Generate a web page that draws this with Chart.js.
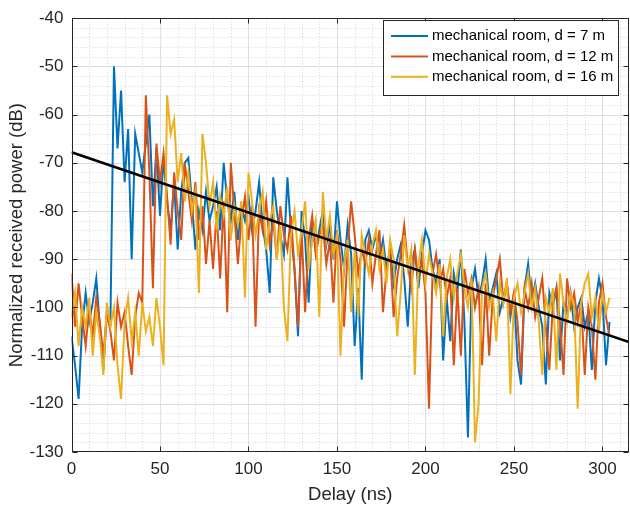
<!DOCTYPE html>
<html>
<head>
<meta charset="utf-8">
<script src="https://cdn.jsdelivr.net/npm/chart.js@4.4.0/dist/chart.umd.min.js"></script>
<style>
  html, body { margin: 0; padding: 0; background: #fff; }
</style>
</head>
<body>
<canvas id="pdp" width="630" height="510"></canvas>
<script>
// samples every 2 ns, starting at 0 ns
const delayStep = 2;

const seriesLabels = [
  'mechanical room, d = 7 m',
  'mechanical room, d = 12 m',
  'mechanical room, d = 16 m'
];

const power7m = [
  -106, -112, -119, -104, -97, -103, -99, -94, -104, -113,
  -101, -103, -50, -67, -55, -74, -63, -90, -64, -68,
  -72, -66, -60, -79, -67, -81, -69, -78, -84, -74,
  -88, -76, -70, -69, -78, -88, -80, -84, -76, -82,
  -79, -75, -84, -70, -78, -82, -76, -86, -79, -82,
  -77, -84, -80, -74, -83, -88, -97, -73, -80, -85,
  -89, -73, -84, -92, -106, -80, -86, -99, -82, -88,
  -84, -80, -87, -83, -90, -78, -86, -92, -83, -89,
  -108, -96, -115, -86, -84, -88, -85, -90, -86, -92,
  -88, -95, -90, -87, -94, -104, -91, -88, -96, -89,
  -84, -86, -92, -95, -90, -111, -98, -107, -93, -97,
  -88, -103, -127, -96, -92, -98, -95, -90, -99, -96,
  -93, -101, -98, -95, -102, -97, -111, -116, -96, -91,
  -99, -95, -100, -104, -116, -97, -100, -96, -111, -99,
  -102, -97, -104, -100, -98, -104, -101, -113, -99, -94,
  -98, -112, -103
];

const power12m = [
  -93, -104, -95, -102, -108, -100, -106, -98, -103, -110,
  -101, -105, -111, -99, -104, -101, -108, -114, -102, -97,
  -99, -56, -72, -96, -66, -74, -68, -77, -87, -72,
  -80, -86, -70, -76, -82, -74, -86, -79, -91, -82,
  -92, -80, -94, -78, -101, -70, -80, -91, -82, -77,
  -86, -79, -104, -80, -84, -78, -87, -82, -90, -79,
  -85, -88, -81, -92, -104, -84, -101, -86, -81, -89,
  -85, -83, -91, -86, -99, -84, -90, -104, -88, -78,
  -85, -93, -88, -91, -86, -95, -89, -84, -101, -92,
  -88, -102, -94, -89, -83, -91, -96, -88, -94, -90,
  -97, -121, -93, -89, -95, -92, -98, -94, -112, -96,
  -110, -92, -97, -94, -100, -96, -112, -95, -110, -98,
  -94, -90, -99, -95, -101, -97, -103, -114, -96, -100,
  -95, -102, -98, -94, -104, -113, -99, -96, -103, -114,
  -94, -100, -97, -103, -99, -114, -100, -104, -115, -99,
  -95, -102, -106
];

const power16m = [
  -102, -97, -108, -100, -104, -98, -110, -101, -106, -114,
  -99, -104, -100, -112, -119, -103, -98, -107, -101, -110,
  -99, -105, -102, -108, -98, -104, -112, -56, -64, -61,
  -74, -68, -78, -72, -80, -76, -97, -64, -70, -79,
  -74, -84, -77, -81, -75, -86, -79, -83, -78, -98,
  -72, -78, -85, -80, -76, -88, -82, -79, -90, -83,
  -100, -107, -85, -80, -89, -84, -78, -92, -86, -82,
  -102, -76, -86, -81, -89, -85, -110, -91, -86, -101,
  -88, -102, -85, -89, -93, -87, -84, -92, -88, -95,
  -86, -90, -106, -97, -85, -92, -88, -114, -91, -86,
  -95, -89, -93, -97, -91, -106, -94, -90, -98, -93,
  -89, -96, -100, -94, -128, -120, -96, -93, -100, -97,
  -107, -95, -99, -94, -118, -98, -95, -101, -97, -93,
  -100, -96, -103, -114, -98, -101, -96, -113, -93, -99,
  -103, -97, -100, -121, -99, -95, -93, -102, -98, -105,
  -97, -101, -98
];

// linear fit drawn in black
const fitDelay = [0, 315];
const fitPower = [-67.8, -107.2];

const seriesColors = ['#0072BD', '#D95319', '#EDB120'];
const font = 'Arial, "Liberation Sans", Helvetica, sans-serif';

const toPoints = vals => vals.map((v, i) => ({ x: i * delayStep, y: v }));

const matlabAxes = {
  id: 'matlabAxes',
  beforeDatasetsDraw(chart) {
    const { ctx, chartArea: a, scales: { x, y } } = chart;
    const vline = px => { px = Math.round(px) + 0.5; ctx.beginPath(); ctx.moveTo(px, a.top); ctx.lineTo(px, a.bottom); ctx.stroke(); };
    const hline = py => { py = Math.round(py) + 0.5; ctx.beginPath(); ctx.moveTo(a.left, py); ctx.lineTo(a.right, py); ctx.stroke(); };
    ctx.save();
    ctx.lineWidth = 1;
    ctx.strokeStyle = '#d4d4d4';
    ctx.setLineDash([1, 2]);
    for (let v = 10; v < 315; v += 10) if (v % 50) vline(x.getPixelForValue(v));
    for (let v = -128; v < -40; v += 2) if (v % 10) hline(y.getPixelForValue(v));
    ctx.setLineDash([]);
    ctx.strokeStyle = '#dedede';
    for (let v = 50; v <= 300; v += 50) vline(x.getPixelForValue(v));
    for (let v = -120; v <= -50; v += 10) hline(y.getPixelForValue(v));
    ctx.restore();
  },
  afterDatasetsDraw(chart) {
    const { ctx, chartArea: a, scales: { x, y } } = chart;
    const L = Math.round(a.left) + 0.5, R = Math.round(a.right) - 0.5;
    const T = Math.round(a.top) + 0.5, B = Math.round(a.bottom) - 0.5;
    ctx.save();
    ctx.strokeStyle = '#262626';
    ctx.lineWidth = 1;
    ctx.strokeRect(L, T, R - L, B - T);
    ctx.beginPath();
    for (let v = 0; v <= 300; v += 50) {
      const px = Math.round(x.getPixelForValue(v)) + 0.5;
      ctx.moveTo(px, B); ctx.lineTo(px, B - 5);
      ctx.moveTo(px, T); ctx.lineTo(px, T + 5);
    }
    for (let v = -130; v <= -40; v += 10) {
      const py = Math.round(y.getPixelForValue(v)) + 0.5;
      ctx.moveTo(L, py); ctx.lineTo(L + 5, py);
      ctx.moveTo(R, py); ctx.lineTo(R - 5, py);
    }
    ctx.stroke();

    // legend box, top right inside the axes
    ctx.fillStyle = '#fff';
    ctx.fillRect(383.5, 20.5, 235, 75);
    ctx.strokeStyle = '#262626';
    ctx.strokeRect(383.5, 20.5, 235, 75);
    ctx.font = '15px ' + font;
    ctx.textBaseline = 'middle';
    ctx.textAlign = 'left';
    seriesLabels.forEach((txt, i) => {
      const ry = 36 + i * 20.4;
      ctx.strokeStyle = seriesColors[i];
      ctx.lineWidth = 2;
      ctx.beginPath(); ctx.moveTo(391, ry); ctx.lineTo(428, ry); ctx.stroke();
      ctx.fillStyle = '#000';
      ctx.fillText(txt, 432, ry);
    });
    ctx.restore();
  }
};

new Chart(document.getElementById('pdp'), {
  type: 'line',
  data: {
    datasets: [
      { label: seriesLabels[0], data: toPoints(power7m), borderColor: seriesColors[0], order: 3 },
      { label: seriesLabels[1], data: toPoints(power12m), borderColor: seriesColors[1], order: 2 },
      { label: seriesLabels[2], data: toPoints(power16m), borderColor: seriesColors[2], order: 1 },
      { label: 'fit', data: fitDelay.map((d, i) => ({ x: d, y: fitPower[i] })), borderColor: '#000', borderWidth: 2.6, order: 0 }
    ]
  },
  options: {
    responsive: false,
    animation: false,
    devicePixelRatio: 1,
    layout: { padding: { top: 10, right: 1, left: 0, bottom: 0 } },
    elements: { point: { radius: 0 }, line: { borderWidth: 2, tension: 0 } },
    plugins: { legend: { display: false }, tooltip: { enabled: false } },
    scales: {
      x: {
        type: 'linear', min: 0, max: 315,
        afterFit: s => { s.height = 58; },
        grid: { display: false, drawTicks: false },
        border: { display: false },
        ticks: { stepSize: 50, includeBounds: false, maxRotation: 0, padding: 7, color: '#262626', font: { family: font, size: 17 } },
        title: { display: true, text: 'Delay (ns)', color: '#262626', font: { family: font, size: 18.5 }, padding: { top: 0, bottom: 4 } }
      },
      y: {
        type: 'linear', min: -130, max: -40,
        afterFit: s => { s.width = 71.5; },
        grid: { display: false, drawTicks: false },
        border: { display: false },
        ticks: { stepSize: 10, padding: 8, color: '#262626', font: { family: font, size: 17 } },
        title: { display: true, text: 'Normalized received power (dB)', color: '#262626', font: { family: font, size: 18.5 }, padding: { top: 6, bottom: 0 } }
      }
    }
  },
  plugins: [matlabAxes]
});
</script>
</body>
</html>
